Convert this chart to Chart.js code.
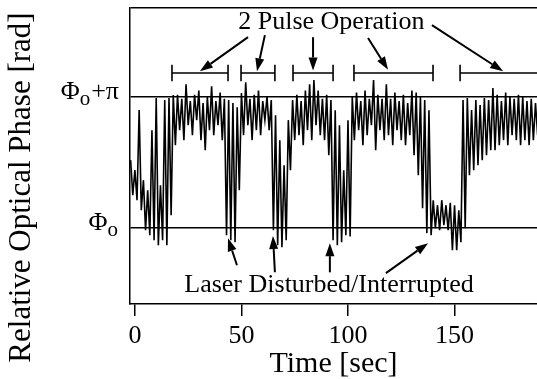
<!DOCTYPE html>
<html>
<head>
<meta charset="utf-8">
<script src="https://cdn.jsdelivr.net/npm/chart.js@4.4.0/dist/chart.umd.min.js"></script>
<style>
  html, body { margin: 0; padding: 0; background: #fff; }
  #wrap { width: 537px; height: 379px; }
</style>
</head>
<body>
<div id="wrap"><canvas id="phaseChart" width="537" height="379"></canvas></div>
<script>
// phase trace, one sample per second starting at t = -2 s
var tStart = -2;
var tStep = 1;
var phase = [
  // -2 .. 19 s : locking in
  1.63, 0.79, 1.39, 0.67, 2.83, 0.43, 1.15, -0.05, 0.91, -0.17, 2.35,
  -0.29, 3.12, -0.41, 1.03, -0.29, 3.07, -0.41, 3.12, 0.31, 3.19, 1.99,
  // 20 .. 42 s
  3.2, 2.35, 3.1, 2.11, 3.45, 2.47, 3.05, 2.23, 3.2, 2.59, 3.3, 2.11,
  3.0, 1.87, 3.15, 2.35, 3.4, 2.23, 3.05, 2.47, 3.25, 2.11, 3.1,
  // 43 .. 49 s : first disturbance
  -0.17, 3.07, -0.29, 3.0, -0.34, 2.9, 0.91,
  // 50 .. 62 s
  3.24, 2.23, 3.5, 2.47, 3.1, 2.11, 3.2, 2.35, 3.3, 2.23, 3.05, 2.59, 3.15,
  // 63 .. 75 s : second disturbance
  2.35, 3.07, -0.05, 2.71, -0.41, 2.11, -0.46, 1.51, -0.29, 2.59, 1.39, 3.07, 2.11,
  // 76 .. 91 s
  3.2, 2.23, 3.05, 1.99, 3.3, 2.35, 3.45, 2.11, 3.55, 2.47, 3.3, 2.23,
  3.1, 2.11, 3.2, 1.75,
  // 92 .. 101 s : third disturbance
  3.07, -0.29, 2.83, -0.41, 2.47, -0.34, 1.39, -0.17, 2.59, -0.2,
  // 102 .. 136 s
  3.15, 2.11, 3.25, 2.35, 3.05, 1.99, 3.3, 2.23, 3.1, 2.47, 3.55, 1.87,
  3.2, 2.35, 3.1, 2.11, 3.45, 2.23, 3.1, 1.99, 3.25, 2.35, 3.05, 2.11,
  3.2, 1.99, 3.0, 2.23, 3.3, 1.75, 3.25, 1.27, 3.15, 0.48, 3.07,
  // 137 .. 155 s : interruption
  -0.12, 2.83, -0.17, 0.67, 0.0, 0.55, -0.05, 0.67, 0.07, 0.55, -0.05,
  0.61, -0.53, 0.55, -0.53, 0.43, -0.34, 3.07, 0.0,
  // 156 .. 189 s : recovery
  3.12, 1.27, 2.83, 1.39, 3.07, 1.51, 2.95, 1.63, 3.12, 1.75, 3.07, 1.87,
  3.36, 1.87, 3.2, 1.99, 3.05, 2.11, 3.25, 1.99, 3.15, 2.23, 3.1, 2.11,
  3.2, 1.99, 3.15, 2.11, 3.05, 1.99, 3.1, 2.11, 3.0, 2.23
];

var timeTicks = [0, 50, 100, 150];
var phaseTicks = [0, Math.PI];
var phaseTickLabels = ["Φo", "Φo+π"];

// 2-pulse operation intervals [s]
var pulseStart = [17.4, 49.8, 74.2, 102.8, 152.6];
var pulseEnd = [43.7, 65.7, 93.0, 139.9, 195];
var pulseLevel = 3.72;

// arrows: tail and head as [time, phase]
var pulseArrowTail = [[53.1, 4.58], [61.0, 4.63], [83.6, 4.58], [109.4, 4.56], [139.4, 4.87]];
var pulseArrowHead = [[30.5, 3.76], [57.3, 3.76], [83.6, 3.78], [118.8, 3.8], [172.8, 3.76]];
var laserArrowTail = [[47.9, -0.89], [65.7, -1.06], [91.5, -1.06], [117.8, -1.08]];
var laserArrowHead = [[43.7, -0.24], [64.8, -0.19], [91.5, -0.36], [137.6, -0.36]];

var serif = '"Liberation Serif", "Times New Roman", serif';

var tracePoints = phase.map(function(v, i) {
    return { x: tStart + i * tStep, y: v };
});

// bracket for each interval: cap, bar, cap
var capH = 0.2;
var bracketSets = pulseStart.map(function(a, i) {
    var b = pulseEnd[i];
    return {
        data: [
            { x: a, y: pulseLevel - capH }, { x: a, y: pulseLevel + capH },
            { x: a, y: pulseLevel }, { x: b, y: pulseLevel },
            { x: b, y: pulseLevel + capH }, { x: b, y: pulseLevel - capH }
        ],
        borderColor: "#000",
        borderWidth: 1.6,
        pointRadius: 0,
        tension: 0,
        fill: false
    };
});

function arrow(ctx, x0, y0, x1, y1) {
    var ang = Math.atan2(y1 - y0, x1 - x0);
    var len = 13, half = 4.5;
    var bx = x1 - len * Math.cos(ang), by = y1 - len * Math.sin(ang);
    ctx.beginPath();
    ctx.moveTo(x0, y0);
    ctx.lineTo(bx, by);
    ctx.lineWidth = 2;
    ctx.stroke();
    ctx.beginPath();
    ctx.moveTo(x1, y1);
    ctx.lineTo(bx + half * Math.sin(ang), by - half * Math.cos(ang));
    ctx.lineTo(bx - half * Math.sin(ang), by + half * Math.cos(ang));
    ctx.closePath();
    ctx.fill();
}

// labels, arrows and the rotated axis title
var extras = {
    id: "extras",
    afterDraw: function(chart) {
        var ctx = chart.ctx, area = chart.chartArea;
        var xs = chart.scales.x, ys = chart.scales.y;
        ctx.save();
        ctx.fillStyle = "#000";
        ctx.strokeStyle = "#000";

        // phase tick labels with subscript o
        phaseTicks.forEach(function(v, i) {
            var lab = phaseTickLabels[i];
            var py = ys.getPixelForValue(v) + 2;
            ctx.textBaseline = "alphabetic";
            ctx.textAlign = "left";
            ctx.font = "26px " + serif;
            var w0 = ctx.measureText(lab[0]).width;
            var w2 = ctx.measureText(lab.slice(2)).width;
            ctx.font = "21px " + serif;
            var w1 = ctx.measureText(lab[1]).width;
            var px = area.left - 12 - (w0 + w1 + w2);
            ctx.font = "26px " + serif;
            ctx.fillText(lab[0], px, py);
            ctx.fillText(lab.slice(2), px + w0 + w1 + 1, py);
            ctx.font = "21px " + serif;
            ctx.fillText(lab[1], px + w0, py + 6);
        });

        // y axis title
        ctx.save();
        ctx.translate(22, chart.height / 2 - 2);
        ctx.rotate(-Math.PI / 2);
        ctx.textAlign = "center";
        ctx.textBaseline = "middle";
        ctx.font = "31px " + serif;
        ctx.fillText("Relative Optical Phase [rad]", 0, 0);
        ctx.restore();

        // annotations
        ctx.textAlign = "center";
        ctx.textBaseline = "middle";
        ctx.font = "26px " + serif;
        ctx.fillText("2 Pulse Operation", xs.getPixelForValue(92.2), ys.getPixelForValue(4.94));
        ctx.fillText("Laser Disturbed/Interrupted", xs.getPixelForValue(91.1), ys.getPixelForValue(-1.37));

        pulseArrowTail.forEach(function(p, i) {
            var q = pulseArrowHead[i];
            arrow(ctx, xs.getPixelForValue(p[0]), ys.getPixelForValue(p[1]),
                  xs.getPixelForValue(q[0]), ys.getPixelForValue(q[1]));
        });
        laserArrowTail.forEach(function(p, i) {
            var q = laserArrowHead[i];
            arrow(ctx, xs.getPixelForValue(p[0]), ys.getPixelForValue(p[1]),
                  xs.getPixelForValue(q[0]), ys.getPixelForValue(q[1]));
        });
        ctx.restore();
    }
};

var chart = new Chart(document.getElementById("phaseChart"), {
    type: "line",
    data: {
        datasets: [{
            data: tracePoints,
            borderColor: "#000",
            borderWidth: 1.6,
            pointRadius: 0,
            tension: 0,
            fill: false
        }].concat(bracketSets)
    },
    options: {
        responsive: false,
        animation: false,
        layout: { padding: { top: 8, left: 0, right: 0, bottom: 0 } },
        plugins: {
            legend: { display: false },
            tooltip: { enabled: false }
        },
        scales: {
            x: {
                type: "linear",
                min: -2.3,
                max: 188.7,
                afterBuildTicks: function(s) {
                    s.ticks = timeTicks.map(function(v) { return { value: v }; });
                },
                afterFit: function(s) { s.height = 75; },
                ticks: {
                    color: "#000",
                    font: { family: serif, size: 26 },
                    padding: 5,
                    maxRotation: 0,
                    autoSkip: false
                },
                grid: {
                    drawOnChartArea: false,
                    drawTicks: true,
                    tickLength: 12,
                    color: "#000",
                    lineWidth: 1.5
                },
                border: { color: "#000", width: 1.5 },
                title: {
                    display: true,
                    text: "Time [sec]",
                    color: "#000",
                    font: { family: serif, size: 30 },
                    padding: { top: 0, bottom: -3 }
                }
            },
            y: {
                type: "linear",
                min: -1.82,
                max: 5.28,
                afterBuildTicks: function(s) {
                    s.ticks = phaseTicks.concat([5.28]).map(function(v) { return { value: v }; });
                },
                afterFit: function(s) { s.width = 130; },
                ticks: { display: false },
                grid: {
                    drawTicks: false,
                    color: "#000",
                    lineWidth: 1.5
                },
                border: { color: "#000", width: 1.5 }
            }
        }
    },
    plugins: [extras]
});
</script>
</body>
</html>
